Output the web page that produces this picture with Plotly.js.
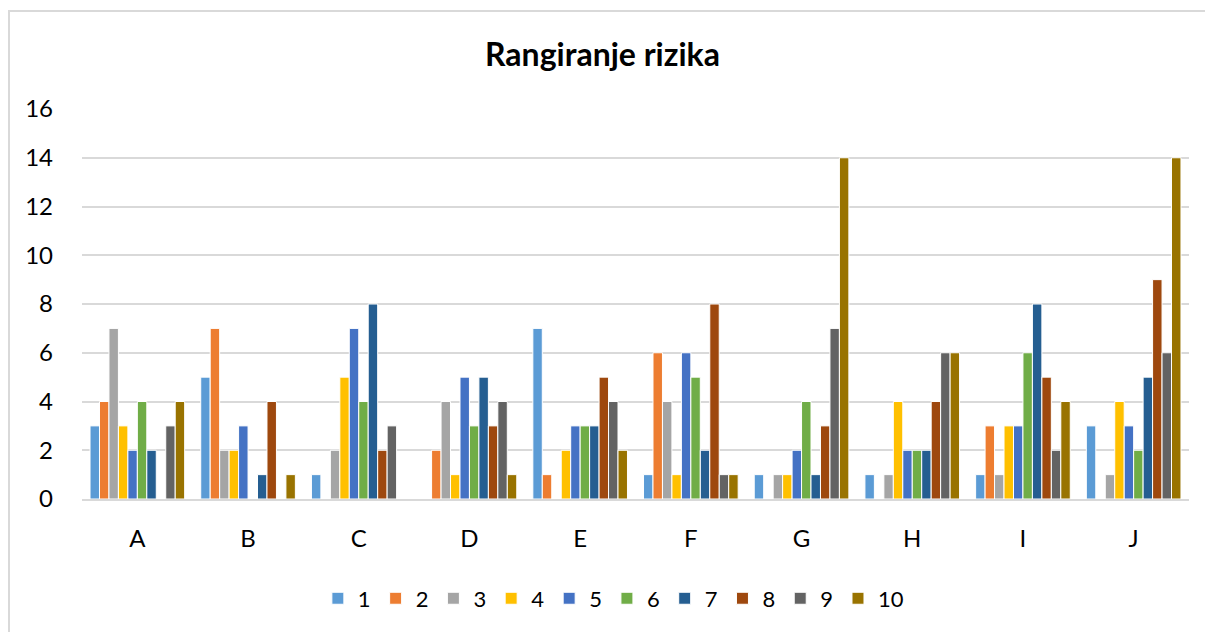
<!DOCTYPE html>
<html>
<head>
<meta charset="utf-8">
<script src="https://cdn.plot.ly/plotly-3.0.1.min.js"></script>
<style>
  html, body { margin: 0; padding: 0; background: #fff; }
  #wrap { position: relative; width: 1205px; height: 632px; overflow: hidden; }
  #chart { position: absolute; left: 0; top: 0; width: 1205px; height: 632px; }
  #frame { position: absolute; left: 8px; top: 10px; width: 1210px; height: 640px;
           border: 2px solid #d9d9d9; box-sizing: border-box; pointer-events: none; }
</style>
</head>
<body>
<div id="wrap">
  <div id="chart"></div>
  <div id="frame"></div>
</div>
<script>
const categories = ["A", "B", "C", "D", "E", "F", "G", "H", "I", "J"];
const seriesNames = ["1", "2", "3", "4", "5", "6", "7", "8", "9", "10"];
const s1  = [3, 5, 1, 0, 7, 1, 1, 1, 1, 3];
const s2  = [4, 7, 0, 2, 1, 6, 0, 0, 3, 0];
const s3  = [7, 2, 2, 4, 0, 4, 1, 1, 1, 1];
const s4  = [3, 2, 5, 1, 2, 1, 1, 4, 3, 4];
const s5  = [2, 3, 7, 5, 3, 6, 2, 2, 3, 3];
const s6  = [4, 0, 4, 3, 3, 5, 4, 2, 6, 2];
const s7  = [2, 1, 8, 5, 3, 2, 1, 2, 8, 5];
const s8  = [0, 4, 2, 3, 5, 8, 3, 4, 5, 9];
const s9  = [3, 0, 3, 4, 4, 1, 7, 6, 2, 6];
const s10 = [4, 1, 0, 1, 2, 1, 14, 6, 4, 14];
const seriesValues = [s1, s2, s3, s4, s5, s6, s7, s8, s9, s10];
const colors = ["#5B9BD5", "#ED7D31", "#A5A5A5", "#FFC000", "#4472C4",
                "#70AD47", "#255E91", "#9E480E", "#636363", "#997300"];

const font = "Lato, 'Open Sans', 'DejaVu Sans', sans-serif";

const traces = seriesValues.map((vals, i) => ({
  type: "bar",
  name: seriesNames[i],
  x: categories,
  y: vals,
  marker: { color: colors[i], line: { color: "#ffffff", width: 1 } },
  hoverinfo: "x+y+name"
}));

const layout = {
  width: 1205,
  height: 632,
  margin: { l: 82, r: 16, t: 109, b: 130 },
  paper_bgcolor: "#ffffff",
  plot_bgcolor: "#ffffff",
  barmode: "group",
  bargap: 0.145,
  bargroupgap: 0,
  font: { family: font, size: 24, color: "#000000" },
  title: {
    text: "<b>Rangiranje rizika</b>",
    font: { family: font, size: 32, color: "#000000" },
    x: 0.5, xanchor: "center",
    y: 0.913, yanchor: "middle", yref: "container"
  },
  xaxis: {
    type: "category",
    showgrid: false,
    zeroline: false,
    showline: true,
    linecolor: "#d9d9d9",
    linewidth: 2,
    ticks: "",
    ticklabelstandoff: 17,
    tickfont: { family: font, size: 24, color: "#000000" }
  },
  yaxis: {
    range: [0, 16],
    dtick: 2,
    tick0: 0,
    showgrid: true,
    gridcolor: "#d9d9d9",
    gridwidth: 2,
    zeroline: false,
    showline: false,
    ticks: "",
    ticklabelstandoff: 28,
    tickfont: { family: font, size: 24, color: "#000000" }
  },
  showlegend: true,
  legend: {
    orientation: "h",
    x: 0.48, xanchor: "center",
    y: -0.255, yanchor: "middle",
    font: { family: font, size: 22, color: "#000000" },
    itemwidth: 30,
    tracegroupgap: 0,
    traceorder: "normal"
  }
};

Plotly.newPlot("chart", traces, layout, { displayModeBar: false, staticPlot: true });
</script>
</body>
</html>
